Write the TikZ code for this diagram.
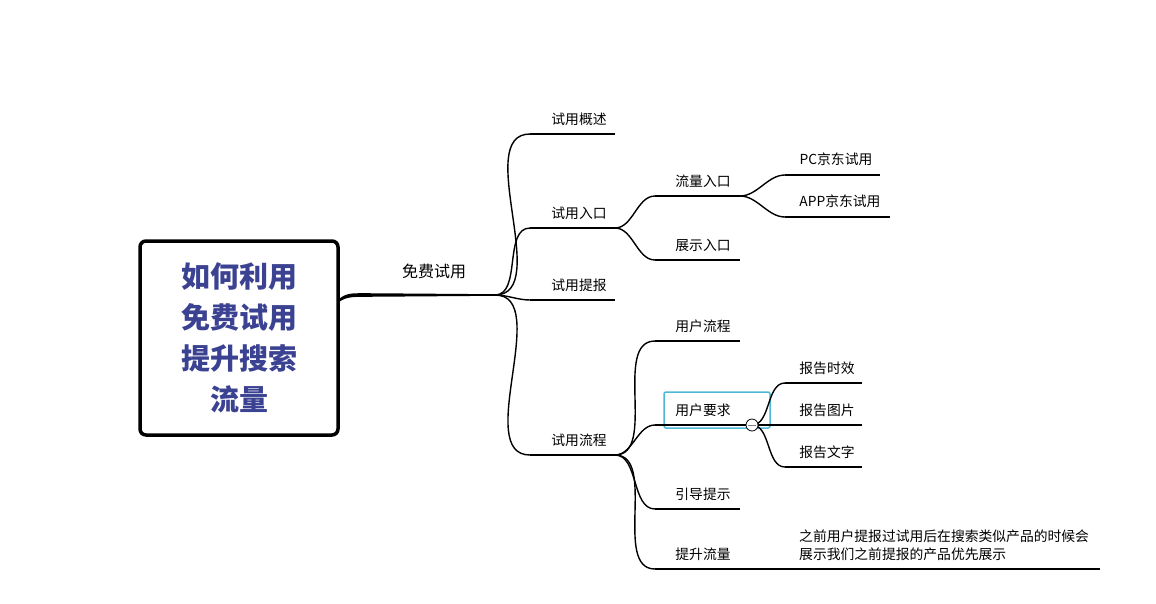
\documentclass[tikz,border=0pt]{standalone}
\usepackage{fontspec}
\usetikzlibrary{calc}
\newfontfamily\cjk{Noto Sans CJK SC}
\definecolor{rootc}{HTML}{3B4291}
\definecolor{selc}{HTML}{4BB8D8}
\begin{document}
\begin{tikzpicture}[x=1pt,y=-1pt,
  lbl/.style={font=\cjk\fontsize{13.8}{16}\selectfont,inner sep=0pt,anchor=center},
  br/.style={draw=black,line width=1.4pt},
  ln/.style={draw=black,line width=1.4pt}]
\useasboundingbox (0,0) rectangle (1156,603);
\newcommand\cv[2]{\draw[br] (#1) to[out=0,in=180,looseness=0.9] (#2);}
\node[draw=black,line width=3.5pt,rounded corners=6pt,minimum width=198pt,minimum height=194pt,inner sep=0pt,
  font=\cjk\bfseries\fontsize{29}{41}\selectfont,text=rootc,align=center] (root) at (239,338)
  {如何利用\\免费试用\\提升搜索\\流量};
\coordinate (fa) at (360,295); \coordinate (fb) at (495,295);
\node[lbl,font=\cjk\fontsize{16}{18}\selectfont] (mf) at (434,271) {免费试用};
\fill (339,299) .. controls (346,293) and (352,293.2) .. (365,293.2) -- (495,294.2) -- (495,295.8) -- (365,296.8) .. controls (352,296.8) and (346,297) .. (339,302) -- cycle;
\draw[ln] (fa) -- (fb);
\foreach \n/\y/\t in {a/134/试用概述, b/228/试用入口, c/300/试用提报, d/455/试用流程}{
  \coordinate (\n1) at (530,\y); \coordinate (\n2) at (615,\y);
  \node[lbl] (t\n) at (579,\y-15) {\t};
  \draw[ln] (\n1) -- (\n2);
  \cv{fb}{\n1}
}
\foreach \n/\y/\t in {e/196/流量入口, f/260/展示入口}{
  \coordinate (\n1) at (655,\y); \coordinate (\n2) at (740,\y);
  \node[lbl] (t\n) at (703,\y-15) {\t};
  \draw[ln] (\n1) -- (\n2);
  \cv{b2}{\n1}
}
\coordinate (g1) at (785,175); \coordinate (g2) at (880,175);
\node[lbl] (tg) at (836,159) {PC京东试用};
\coordinate (h1) at (785,217); \coordinate (h2) at (890,217);
\node[lbl] (th) at (840,201) {APP京东试用};
\draw[ln] (g1)--(g2); \draw[ln] (h1)--(h2);
\cv{e2}{g1} \cv{e2}{h1}
\foreach \n/\y/\t in {i/341/用户流程, k/509/引导提示, l/569/提升流量}{
  \coordinate (\n1) at (655,\y); \coordinate (\n2) at (740,\y);
  \node[lbl] (t\n) at (703,\y-15) {\t};
  \draw[ln] (\n1) -- (\n2);
  \cv{d2}{\n1}
}
\node[draw=selc,line width=1.5pt,rounded corners=2pt,minimum width=106pt,minimum height=36pt,inner sep=0pt] (jbox) at (717,410) {};
\node[lbl] (tj) at (703,410) {用户要求};
\coordinate (j1) at (655,425); \coordinate (j2) at (752,425);
\draw[ln] (j1)--(j2); \cv{d2}{j1}
\foreach \n/\y/\t in {m/383/报告时效, n/425/报告图片, o/467/报告文字}{
  \coordinate (\n1) at (785,\y); \coordinate (\n2) at (862,\y);
  \node[lbl] (t\n) at (827,\y-15) {\t};
  \draw[ln] (\n1) -- (\n2);
  \cv{j2}{\n1}
}
\node[circle,draw=black,fill=white,line width=0.8pt,minimum size=12pt,inner sep=0pt] (col) at (j2) {};
\draw[line width=0.8pt,gray] ($(col.west)+(2,0)$) -- ($(col.east)+(-2,0)$);
\coordinate (p2) at (1100,569);
\draw[ln] (l2) -- (p2);
\node[lbl,anchor=west,align=left,font=\cjk\fontsize{13.8}{18}\selectfont] (tp) at (799,545) {之前用户提报过试用后在搜索类似产品的时候会\\展示我们之前提报的产品优先展示};
\end{tikzpicture}
\end{document}
